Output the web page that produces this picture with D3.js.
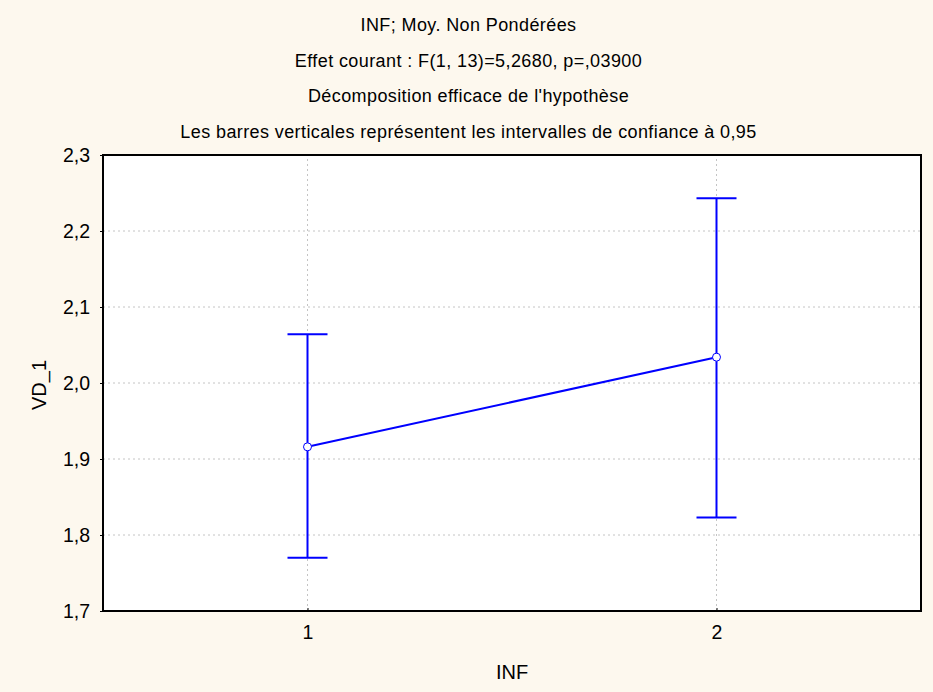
<!DOCTYPE html>
<html lang="fr">
<head>
<meta charset="UTF-8">
<title>INF; Moy. Non Pondérées</title>
<script src="https://d3js.org/d3.v7.min.js"></script>
<style>
  body { margin: 0; background: #fdf8ee; }
  text { font-family: "Liberation Sans", Arial, sans-serif; fill: #000; }
</style>
</head>
<body>
<script>
  // data
  const groups = [1, 2];
  const means = [1.916, 2.034];
  const lower = [1.770, 1.823];
  const upper = [2.064, 2.243];
  const yTicks = [1.7, 1.8, 1.9, 2.0, 2.1, 2.2, 2.3];
  const titles = [
    "INF; Moy. Non Pondérées",
    "Effet courant : F(1, 13)=5,2680, p=,03900",
    "Décomposition efficace de l'hypothèse",
    "Les barres verticales représentent les intervalles de confiance à 0,95"
  ];

  const width = 933, height = 692;
  const margin = { top: 155, right: 12, bottom: 81, left: 103 };
  const fmt = d => d3.format(".1f")(d).replace(".", ",");

  const svg = d3.select("body").append("svg")
    .attr("width", width)
    .attr("height", height)
    .style("background-color", "#fdf8ee");

  const x = d3.scaleLinear().domain([0.5, 2.5]).range([margin.left, width - margin.right]);
  const y = d3.scaleLinear().domain([1.7, 2.3]).range([height - margin.bottom, margin.top]);

  // titles
  svg.selectAll("text.title")
    .data(titles)
    .enter().append("text")
    .attr("class", "title")
    .attr("x", width / 2 + 2)
    .attr("y", (d, i) => 31 + i * 35.5)
    .attr("text-anchor", "middle")
    .style("font-size", "18px")
    .style("letter-spacing", "0.4px")
    .text(d => d);

  // plot area
  svg.append("rect")
    .attr("x", x.range()[0]).attr("y", y.range()[1])
    .attr("width", x.range()[1] - x.range()[0])
    .attr("height", y.range()[0] - y.range()[1])
    .attr("fill", "#fff");

  // grid
  svg.append("g")
    .selectAll("line")
    .data(yTicks.slice(1, -1))
    .enter().append("line")
    .attr("x1", x.range()[0]).attr("x2", x.range()[1])
    .attr("y1", d => y(d)).attr("y2", d => y(d))
    .attr("stroke", "#c4c4c4")
    .attr("stroke-dasharray", "2,3");

  svg.append("g")
    .selectAll("line")
    .data(groups)
    .enter().append("line")
    .attr("x1", d => x(d)).attr("x2", d => x(d))
    .attr("y1", y.range()[0]).attr("y2", y.range()[1])
    .attr("stroke", "#c4c4c4")
    .attr("stroke-dasharray", "2,3");

  // axes
  const yAxis = svg.append("g")
    .attr("transform", `translate(${x.range()[0]},0)`)
    .call(d3.axisLeft(y).tickValues(yTicks).tickFormat(fmt).tickSize(3).tickPadding(10));
  const xAxis = svg.append("g")
    .attr("transform", `translate(0,${y.range()[0]})`)
    .call(d3.axisBottom(x).tickValues(groups).tickFormat(d3.format("d")).tickSize(-3).tickPadding(14));
  [yAxis, xAxis].forEach(a => {
    a.select(".domain").remove();
    a.selectAll("text").style("font-size", "19.5px").style("font-family", "\"Liberation Sans\", Arial, sans-serif");
    a.selectAll("line").attr("stroke", "#000");
  });

  // frame
  svg.append("rect")
    .attr("x", x.range()[0]).attr("y", y.range()[1])
    .attr("width", x.range()[1] - x.range()[0])
    .attr("height", y.range()[0] - y.range()[1])
    .attr("fill", "none")
    .attr("stroke", "#000")
    .attr("stroke-width", 2);

  // axis titles
  svg.append("text")
    .attr("x", (x.range()[0] + x.range()[1]) / 2)
    .attr("y", 679)
    .attr("text-anchor", "middle")
    .style("font-size", "20px")
    .text("INF");

  svg.append("text")
    .attr("transform", `translate(46,${(y.range()[0] + y.range()[1]) / 2 + 2}) rotate(-90)`)
    .attr("text-anchor", "middle")
    .style("font-size", "20px")
    .text("VD_1");

  // error bars
  const blue = "#0000ff";
  const capHalf = 20;
  const bars = svg.append("g");
  groups.forEach((g, i) => {
    bars.append("line")
      .attr("x1", x(g)).attr("x2", x(g))
      .attr("y1", y(lower[i])).attr("y2", y(upper[i]))
      .attr("stroke", blue).attr("stroke-width", 2);
    [lower[i], upper[i]].forEach(v => {
      bars.append("line")
        .attr("x1", x(g) - capHalf).attr("x2", x(g) + capHalf)
        .attr("y1", y(v)).attr("y2", y(v))
        .attr("stroke", blue).attr("stroke-width", 2);
    });
  });

  // mean line
  svg.append("path")
    .datum(groups.map((g, i) => [g, means[i]]))
    .attr("d", d3.line().x(d => x(d[0])).y(d => y(d[1])))
    .attr("fill", "none")
    .attr("stroke", blue)
    .attr("stroke-width", 2);

  svg.selectAll("circle.pt")
    .data(groups)
    .enter().append("circle")
    .attr("class", "pt")
    .attr("cx", d => x(d))
    .attr("cy", (d, i) => y(means[i]))
    .attr("r", 4)
    .attr("fill", "#fff")
    .attr("stroke", blue)
    .attr("stroke-width", 1);
</script>
</body>
</html>
